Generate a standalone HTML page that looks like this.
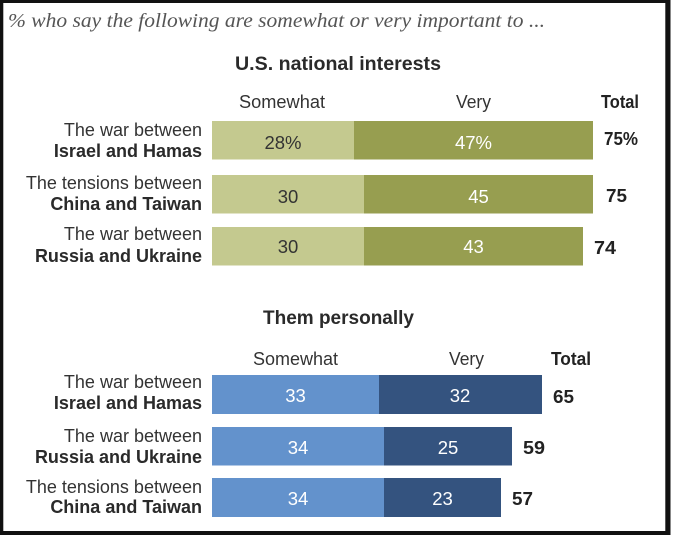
<!DOCTYPE html>
<html><head><meta charset="utf-8"><style>
html,body{margin:0;padding:0;background:#fff;}
svg{display:block;}
text{font-family:"Liberation Sans",Arial,sans-serif;}
.lab{font-size:18px;fill:#333;text-anchor:end;}
.labb{font-size:18px;fill:#2a2a2a;font-weight:bold;text-anchor:end;}
.hd{font-size:18px;fill:#333;}
.tot{font-size:18px;fill:#222;font-weight:bold;}
.num{font-size:18.5px;text-anchor:middle;}
</style></head><body>
<svg width="673" height="536" viewBox="0 0 673 536" xmlns="http://www.w3.org/2000/svg">
<rect x="0" y="0" width="673" height="536" fill="#fff"/>
<rect x="0" y="0" width="670.5" height="535" fill="#111"/>
<rect x="3.3" y="3" width="662" height="528" fill="#fff"/>

<text x="8" y="27" style="font-family:'Liberation Serif',serif;font-style:italic;font-size:19.5px;fill:#555" textLength="537" lengthAdjust="spacingAndGlyphs">% who say the following are somewhat or very important to ...</text>

<text x="235" y="70" style="font-size:19px;font-weight:bold;fill:#2a2a2a" textLength="206" lengthAdjust="spacingAndGlyphs">U.S. national interests</text>

<text class="hd" x="239" y="108" textLength="86" lengthAdjust="spacingAndGlyphs">Somewhat</text>
<text class="hd" x="456" y="108" textLength="35" lengthAdjust="spacingAndGlyphs">Very</text>
<text class="tot" x="601" y="108" textLength="38" lengthAdjust="spacingAndGlyphs">Total</text>

<!-- Section 1 bars -->
<rect x="212" y="121" width="142" height="38.5" fill="#c4c98f"/>
<rect x="354" y="121" width="239" height="38.5" fill="#979e50"/>
<rect x="212" y="175" width="152" height="38.5" fill="#c4c98f"/>
<rect x="364" y="175" width="229" height="38.5" fill="#979e50"/>
<rect x="212" y="227" width="152" height="38.5" fill="#c4c98f"/>
<rect x="364" y="227" width="219" height="38.5" fill="#979e50"/>

<text class="num" x="283" y="149" fill="#333">28%</text>
<text class="num" x="473.5" y="149" fill="#fff">47%</text>
<text class="num" x="288" y="203" fill="#333">30</text>
<text class="num" x="478.5" y="203" fill="#fff">45</text>
<text class="num" x="288" y="253" fill="#333">30</text>
<text class="num" x="473.5" y="253" fill="#fff">43</text>

<text class="tot" x="604" y="145" textLength="34" lengthAdjust="spacingAndGlyphs">75%</text>
<text class="tot" x="606" y="202" textLength="21" lengthAdjust="spacingAndGlyphs">75</text>
<text class="tot" x="594" y="254" textLength="22" lengthAdjust="spacingAndGlyphs">74</text>

<text class="lab" x="202" y="136">The war between</text>
<text class="labb" x="202" y="157">Israel and Hamas</text>
<text class="lab" x="202" y="189">The tensions between</text>
<text class="labb" x="202" y="210">China and Taiwan</text>
<text class="lab" x="202" y="240">The war between</text>
<text class="labb" x="202" y="262">Russia and Ukraine</text>

<!-- Section 2 -->
<text x="263" y="324" style="font-size:19px;font-weight:bold;fill:#2a2a2a" textLength="151" lengthAdjust="spacingAndGlyphs">Them personally</text>

<text class="hd" x="253" y="365" textLength="85" lengthAdjust="spacingAndGlyphs">Somewhat</text>
<text class="hd" x="449" y="365" textLength="35" lengthAdjust="spacingAndGlyphs">Very</text>
<text class="tot" x="551" y="365" textLength="40" lengthAdjust="spacingAndGlyphs">Total</text>

<rect x="212" y="375" width="167" height="39" fill="#6392cc"/>
<rect x="379" y="375" width="163" height="39" fill="#34537f"/>
<rect x="212" y="427" width="172" height="38.5" fill="#6392cc"/>
<rect x="384" y="427" width="128" height="38.5" fill="#34537f"/>
<rect x="212" y="478" width="172" height="39" fill="#6392cc"/>
<rect x="384" y="478" width="117" height="39" fill="#34537f"/>

<text class="num" x="295.5" y="402" fill="#fff">33</text>
<text class="num" x="460" y="402" fill="#fff">32</text>
<text class="num" x="298" y="454" fill="#fff">34</text>
<text class="num" x="448" y="454" fill="#fff">25</text>
<text class="num" x="298" y="505" fill="#fff">34</text>
<text class="num" x="442.5" y="505" fill="#fff">23</text>

<text class="tot" x="553" y="403" textLength="21" lengthAdjust="spacingAndGlyphs">65</text>
<text class="tot" x="523" y="454" textLength="22" lengthAdjust="spacingAndGlyphs">59</text>
<text class="tot" x="512" y="505" textLength="21" lengthAdjust="spacingAndGlyphs">57</text>

<text class="lab" x="202" y="388">The war between</text>
<text class="labb" x="202" y="409">Israel and Hamas</text>
<text class="lab" x="202" y="442">The war between</text>
<text class="labb" x="202" y="463">Russia and Ukraine</text>
<text class="lab" x="202" y="493">The tensions between</text>
<text class="labb" x="202" y="513">China and Taiwan</text>
</svg>
</body></html>
